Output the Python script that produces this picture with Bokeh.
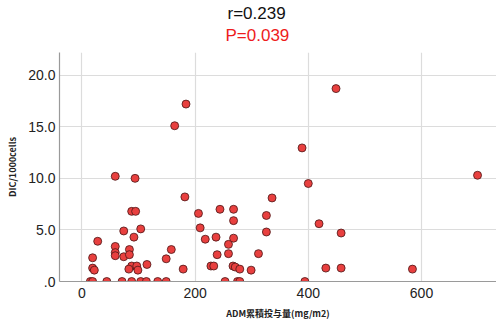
from bokeh.plotting import figure
from bokeh.embed import file_html
from bokeh.resources import INLINE
from bokeh.models import Title, FixedTicker, Range1d

adm = [184, 164, 59, 94, 182, 336, 88, 95, 206, 244, 268, 326, 268, 104, 74, 209,
       326, 92, 28, 218, 237, 268, 259, 59, 84, 158, 59, 59, 74, 84, 19, 239, 259,
       312, 149, 115, 88, 97, 83, 99, 19, 22, 228, 233, 267, 271, 279, 179, 299,
       15, 19, 44, 71, 88, 104, 114, 134, 149, 253, 275, 279, 394,
       449, 389, 400, 699, 419, 458, 431, 458, 584]
dic = [17.2, 15.1, 10.2, 10.0, 8.2, 8.1, 6.8, 6.8, 6.6, 7.0, 7.0, 6.4, 5.9, 5.1, 4.9, 5.2,
       4.8, 4.3, 3.9, 4.1, 4.3, 4.2, 3.6, 3.4, 3.1, 3.1, 2.8, 2.5, 2.4, 2.6, 2.3, 2.6, 2.7,
       2.7, 2.2, 1.65, 1.5, 1.5, 1.2, 1.1, 1.3, 1.1, 1.5, 1.5, 1.5, 1.4, 1.2, 1.2, 1.1,
       0, 0, 0, 0, 0, 0, 0, 0, 0, 0, 0, 0, 0,
       18.7, 12.95, 9.5, 10.3, 5.6, 4.7, 1.3, 1.3, 1.2]
x_ticks = [0, 200, 400, 600]
y_ticks = [0, 5, 10, 15, 20]
y_tick_labels = [".0", "5.0", "10.0", "15.0", "20.0"]
r_text = "r=0.239"
p_text = "P=0.039"
x_label = "ADM累積投与量(mg/m2)"
y_label = "DIC/1000cells"

p = figure(width=496, height=330, output_backend="svg", toolbar_location=None,
           x_range=Range1d(-39.5, 732.5), y_range=Range1d(0, 22.2),
           min_border_left=59, min_border_right=0, min_border_top=52, min_border_bottom=49,
           title=None)
p.outline_line_color = None
p.background_fill_color = "white"

font = "Liberation Sans"
spacer = Title(text=" ", text_font_size="5px", standoff=0)
t2 = Title(text=p_text, text_color="#ee1c1c", text_font_size="17px", text_font=font,
           text_font_style="normal", align="left", offset=166, standoff=0)
t1 = Title(text=r_text, text_color="#111111", text_font_size="17px", text_font=font,
           text_font_style="normal", align="left", offset=168, standoff=2)
p.add_layout(spacer, "above")
p.add_layout(t2, "above")
p.add_layout(t1, "above")

p.scatter(adm, dic, size=8, fill_color="#e8403f", line_color="#4a1515", line_width=0.8)

for ax in (p.xaxis[0], p.yaxis[0]):
    ax.axis_line_color = "#9a9a9a"
    ax.axis_line_width = 1.2
    ax.major_tick_line_color = None
    ax.minor_tick_line_color = None
    ax.major_tick_out = 0
    ax.major_tick_in = 0
    ax.major_label_text_font = font
    ax.major_label_text_font_size = "14px"
    ax.major_label_text_color = "#222222"
    ax.axis_label_text_font = "Noto Sans CJK JP"
    ax.axis_label_text_font_size = "9px"
    ax.axis_label_text_font_style = "bold"
    ax.axis_label_text_color = "#222222"

p.xaxis.ticker = FixedTicker(ticks=x_ticks)
p.yaxis.ticker = FixedTicker(ticks=y_ticks)
p.yaxis.major_label_overrides = {t: l for t, l in zip(y_ticks, y_tick_labels)}
p.xaxis.axis_label = x_label
p.yaxis.axis_label = y_label
p.xaxis.major_label_standoff = 6
p.xaxis.axis_label_standoff = 6
p.yaxis.major_label_standoff = 4
p.yaxis.axis_label_standoff = 6

p.xgrid.ticker = FixedTicker(ticks=x_ticks)
p.ygrid.ticker = FixedTicker(ticks=y_ticks)
p.grid.grid_line_color = "#dcdcdc"
p.grid.grid_line_width = 1.2

open("out.html", "w").write(file_html(p, INLINE))
